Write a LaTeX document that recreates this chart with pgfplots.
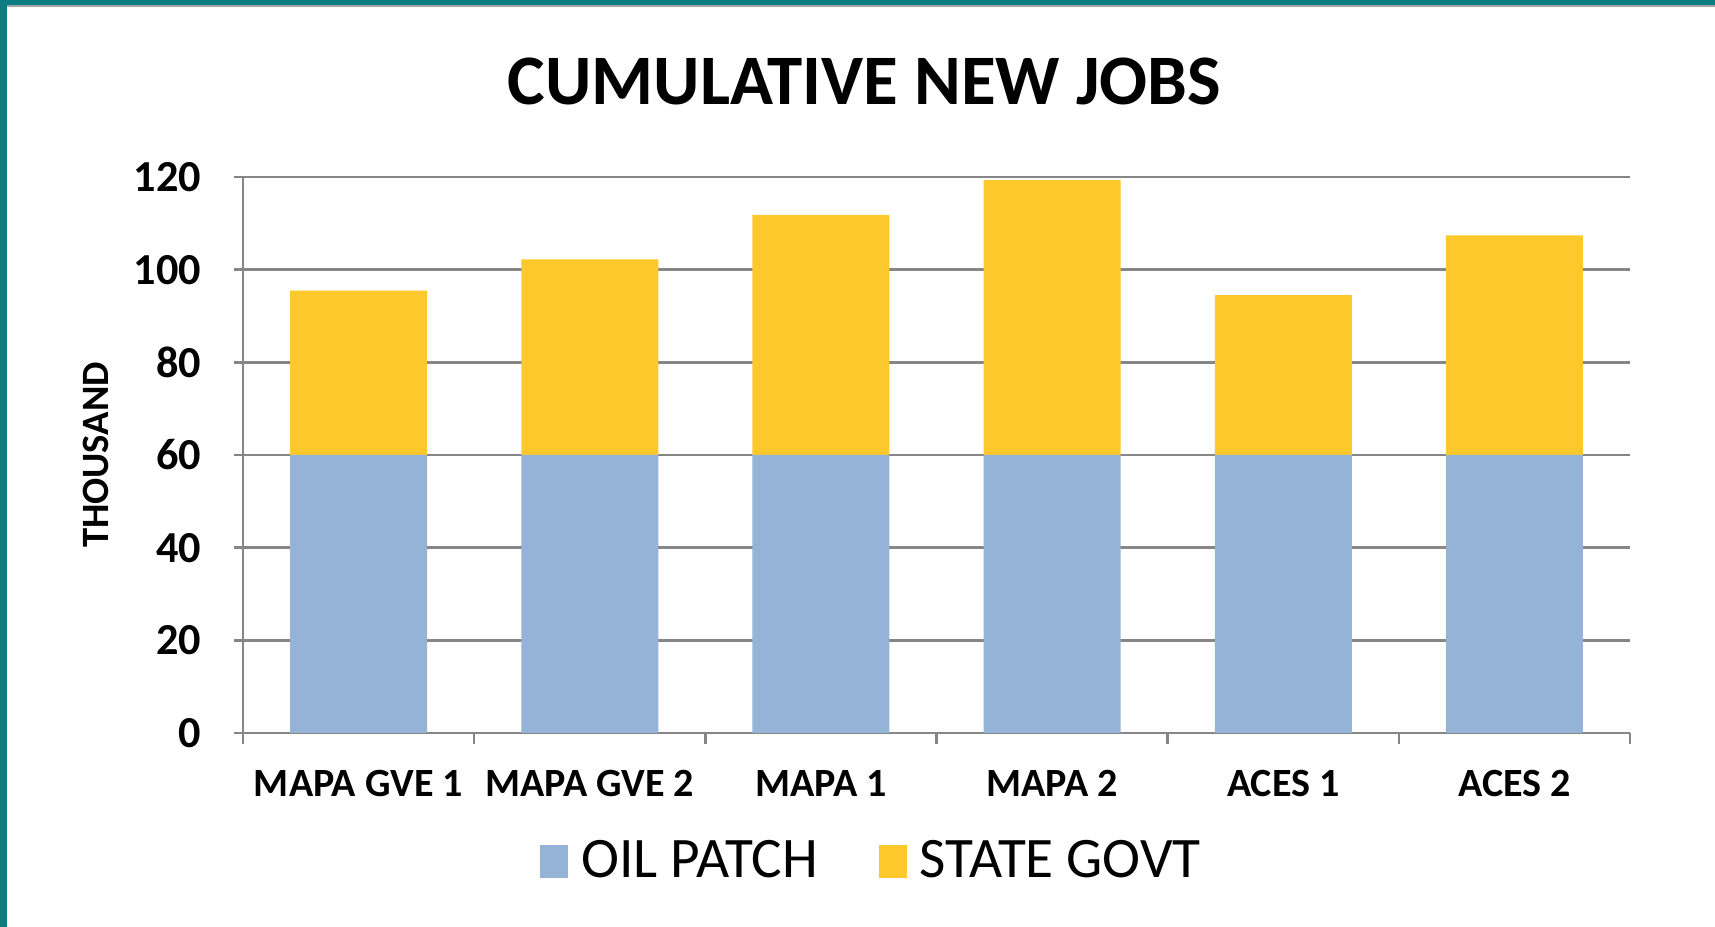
\documentclass[border=0pt]{standalone}
\usepackage{pgfplots}
\pgfplotsset{compat=1.18}
\usepackage{fontspec}
\setmainfont{Carlito}
\definecolor{oilblue}{HTML}{95B3D7}
\definecolor{govtyellow}{HTML}{FDC82C}
\definecolor{gridgray}{HTML}{868686}
\definecolor{frameteal}{HTML}{0B7D80}

% cumulative new jobs, thousand
\pgfplotstableread{
x  oil  govt
0  60   35.5
1  60   42.2
2  60   51.8
3  60   59.3
4  60   34.5
5  60   47.4
}\jobs

\begin{document}
\begin{tikzpicture}
\path[use as bounding box] (0,0) rectangle (171.5mm,92.7mm);
\fill[white] (0,0) rectangle (171.5mm,92.7mm);
\fill[frameteal] (0,0) rectangle (0.7mm,92.7mm);
\fill[frameteal] (0,92.2mm) rectangle (171.5mm,92.7mm);
\draw[gray!70, line width=0.2mm] (0.7mm,92.1mm) -- (171.5mm,92.1mm);
\begin{axis}[
  at={(24.3mm,19.4mm)}, anchor=south west,
  scale only axis,
  width=138.7mm, height=55.6mm,
  ybar stacked, bar width=13.7mm,
  xmin=-0.5, xmax=5.5, ymin=0, ymax=120,
  ytick={0,20,...,120},
  xtick={0,...,5},
  xticklabels={MAPA GVE 1, MAPA GVE 2, MAPA 1, MAPA 2, ACES 1, ACES 2},
  minor xtick={-0.5,0.5,...,5.5},
  major x tick style={draw=none},
  minor x tick style={draw=gridgray, line width=0.25mm},
  y tick style={draw=gridgray, line width=0.25mm},
  tick align=outside,
  major tick length=0.9mm, minor tick length=1.1mm,
  axis line style={draw=gridgray, line width=0.25mm},
  axis x line*=bottom, axis y line*=left,
  ymajorgrids, grid style={draw=gridgray, line width=0.25mm},
  /pgf/number format/assume math mode=true,
  ticklabel style={font=\bfseries},
  yticklabel style={font=\fontsize{12.6}{12.6}\selectfont\bfseries, anchor=east, inner sep=0pt, xshift=-3.2mm},
  xticklabel style={font=\fontsize{11.4}{11.4}\selectfont\bfseries, anchor=base, inner sep=0pt, yshift=-5.5mm},
  title={CUMULATIVE NEW JOBS},
  title style={font=\fontsize{20.2}{20.2}\selectfont\bfseries, at={(axis description cs:0.448,1.133)}, anchor=center, inner sep=0pt},
  ylabel={THOUSAND},
  ylabel style={font=\fontsize{11}{11}\selectfont\bfseries, at={(axis description cs:-0.106,0.5)}, anchor=center, inner sep=0pt},
  legend style={at={(axis description cs:0.455,-0.232)}, anchor=center, draw=none, fill=none,
    font=\fontsize{16.3}{16.3}\selectfont, legend columns=-1,
    /tikz/every odd column/.append style={column sep=0.6mm},
    /tikz/every even column/.append style={column sep=5.4mm}},
  legend image code/.code={\fill[#1] (0,-1.65mm) rectangle (2.8mm,1.65mm);},
  legend cell align=left,
]
\addplot[fill=oilblue, draw=none] table[x=x, y=oil] {\jobs};
\addplot[fill=govtyellow, draw=none] table[x=x, y=govt] {\jobs};
\legend{OIL PATCH, STATE GOVT}
\end{axis}
\end{tikzpicture}
\end{document}
